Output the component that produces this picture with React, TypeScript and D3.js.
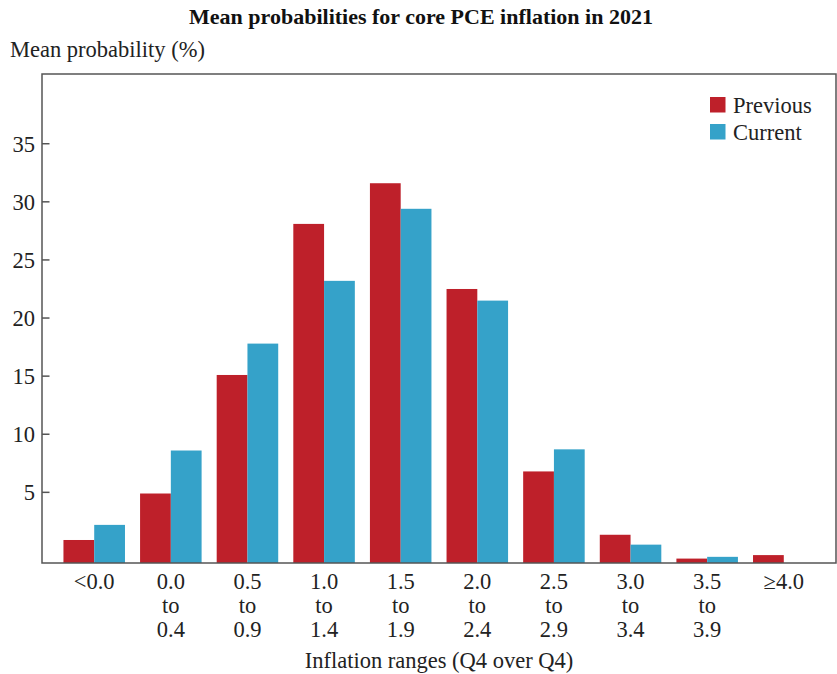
import React, {useRef, useEffect} from 'react';
import * as d3 from 'd3';

// inflation range categories (3 lines each)
const categories = ['<0.0', '0.0-0.4', '0.5-0.9', '1.0-1.4', '1.5-1.9', '2.0-2.4', '2.5-2.9', '3.0-3.4', '3.5-3.9', '>=4.0'];
const categoryLabels = [
    ['<0.0'],
    ['0.0', 'to', '0.4'],
    ['0.5', 'to', '0.9'],
    ['1.0', 'to', '1.4'],
    ['1.5', 'to', '1.9'],
    ['2.0', 'to', '2.4'],
    ['2.5', 'to', '2.9'],
    ['3.0', 'to', '3.4'],
    ['3.5', 'to', '3.9'],
    ['\u22654.0'],
];
const seriesNames = ['Previous', 'Current'];
const seriesColors = ['#be202a', '#35a2c9'];
// mean probability (%); the axis runs a little below zero
const previousValues = [0.9, 4.9, 15.1, 28.1, 31.6, 22.5, 6.8, 1.35, -0.7, -0.4];
const currentValues = [2.2, 8.6, 17.8, 23.2, 29.4, 21.5, 8.7, 0.5, -0.55, null];
const yTicks = [5, 10, 15, 20, 25, 30, 35];

const FONT = '"Liberation Serif", "Times New Roman", serif';
const FS = 22.5;

export default function App(){

    const svgRef = useRef(null);

    const drawChart = () => {
        const svg = d3.select(svgRef.current);
        svg.selectAll('*').remove();

        const dims = {
            width: 837,
            height: 674,
            margin: {top: 74, right: 1, bottom: 111, left: 42},
        };
        const x0 = dims.margin.left;
        const x1 = dims.width - dims.margin.right;
        const y0 = dims.height - dims.margin.bottom; // 563
        const y1 = dims.margin.top;

        const xScale = d3.scaleBand()
            .domain(categories)
            .range([x0, x1])
            .paddingInner(0.197)
            .paddingOuter(0.28);

        const xSub = d3.scaleBand()
            .domain(seriesNames)
            .range([0, xScale.bandwidth()]);

        const yScale = d3.scaleLinear()
            .domain([-1.08, 41])
            .range([y0, y1]);

        // title
        svg.append('text')
            .attr('x', 421)
            .attr('y', 24)
            .attr('text-anchor', 'middle')
            .attr('font-family', FONT)
            .attr('font-weight', 'bold')
            .attr('font-size', 22)
            .attr('fill', '#111')
            .text('Mean probabilities for core PCE inflation in 2021');

        svg.append('text')
            .attr('x', 10)
            .attr('y', 57)
            .attr('font-family', FONT)
            .attr('font-size', FS)
            .attr('fill', '#222')
            .text('Mean probability (%)');

        // bars
        const series = [previousValues, currentValues];
        const barsGroup = svg.append('g').attr('class', 'bars');
        series.forEach((vals, si) => {
            barsGroup.append('g')
                .selectAll('rect')
                .data(vals.map((v, i) => ({v, c: categories[i]})).filter(d => d.v !== null))
                .join('rect')
                .attr('x', d => xScale(d.c) + xSub(seriesNames[si]))
                .attr('width', xSub.bandwidth())
                .attr('y', d => yScale(d.v))
                .attr('height', d => yScale.range()[0] - yScale(d.v))
                .attr('fill', seriesColors[si]);
        });

        // frame
        svg.append('rect')
            .attr('x', x0)
            .attr('y', y1)
            .attr('width', x1 - x0)
            .attr('height', y0 - y1)
            .attr('fill', 'none')
            .attr('stroke', '#555')
            .attr('stroke-width', 1.5);

        // y ticks (inside)
        const yAxis = svg.append('g').attr('class', 'y-axis');
        yAxis.selectAll('line')
            .data(yTicks)
            .join('line')
            .attr('x1', x0)
            .attr('x2', x0 + 7.5)
            .attr('y1', d => yScale(d))
            .attr('y2', d => yScale(d))
            .attr('stroke', '#555')
            .attr('stroke-width', 1.5);
        yAxis.selectAll('text')
            .data(yTicks)
            .join('text')
            .attr('x', 35)
            .attr('y', d => yScale(d) + 8)
            .attr('text-anchor', 'end')
            .attr('font-family', FONT)
            .attr('font-size', FS)
            .attr('fill', '#222')
            .text(d => d);

        // x labels
        const xAxis = svg.append('g').attr('class', 'x-axis');
        categories.forEach((c, i) => {
            const t = xAxis.append('text')
                .attr('x', xScale(c) + xScale.bandwidth() / 2)
                .attr('y', 589)
                .attr('text-anchor', 'middle')
                .attr('font-family', FONT)
                .attr('font-size', FS)
                .attr('fill', '#222');
            categoryLabels[i].forEach((line, li) => {
                t.append('tspan')
                    .attr('x', xScale(c) + xScale.bandwidth() / 2)
                    .attr('dy', li === 0 ? 0 : 24)
                    .text(line);
            });
        });

        svg.append('text')
            .attr('x', 439)
            .attr('y', 668)
            .attr('text-anchor', 'middle')
            .attr('font-family', FONT)
            .attr('font-size', FS)
            .attr('fill', '#222')
            .text('Inflation ranges (Q4 over Q4)');

        // legend
        const legend = svg.append('g').attr('transform', 'translate(710, 97)');
        seriesNames.forEach((name, i) => {
            legend.append('rect')
                .attr('x', 0)
                .attr('y', i * 27)
                .attr('width', 15.5)
                .attr('height', 15.5)
                .attr('fill', seriesColors[i]);
            legend.append('text')
                .attr('x', 23)
                .attr('y', i * 27 + 16)
                .attr('font-family', FONT)
                .attr('font-size', FS)
                .attr('fill', '#222')
                .text(name);
        });
    };

    useEffect(() => {
        drawChart();
    });

    return(
        <div style={{position: 'absolute', left: 0, top: 0, width: 837, height: 674, background: '#fff'}}>
            <svg ref={svgRef} width={837} height={674} style={{display: 'block'}}/>
        </div>
    );
}
